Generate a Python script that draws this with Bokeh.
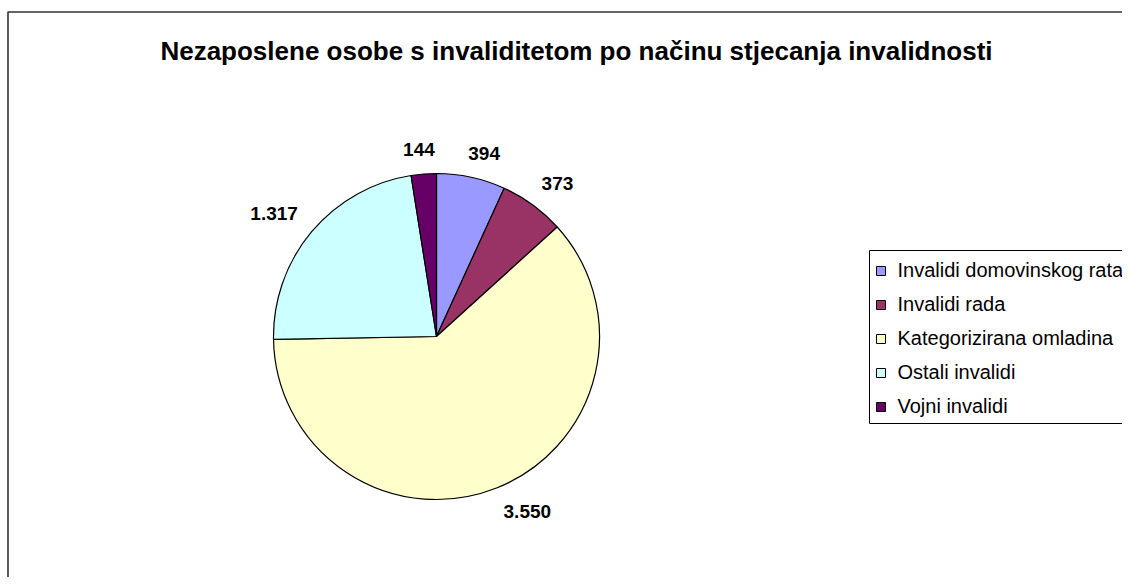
import math
from bokeh.plotting import figure
from bokeh.models import Range1d, Label
from bokeh.core.properties import value
from bokeh.embed import file_html
from bokeh.resources import INLINE

# ---- data ----
title_text = "Nezaposlene osobe s invaliditetom po načinu stjecanja invalidnosti"
categories = ["Invalidi domovinskog rata", "Invalidi rada", "Kategorizirana omladina",
              "Ostali invalidi", "Vojni invalidi"]
counts = [394, 373, 3550, 1317, 144]
count_labels = ["394", "373", "3.550", "1.317", "144"]
colors = ["#9999FF", "#993366", "#FFFFCC", "#CCFFFF", "#660066"]

# ---- layout (pixels, y measured upward from the bottom of the canvas) ----
W, H = 1122, 577
FONT = "Liberation Sans"
cx, cy, R = 436, 241, 163          # pie centre / radius

p = figure(width=W, height=H, x_range=Range1d(0, W), y_range=Range1d(0, H),
           output_backend="svg", toolbar_location=None, min_border=0,
           x_axis_type=None, y_axis_type=None)
p.grid.visible = False
p.outline_line_color = None
p.background_fill_color = "white"
p.border_fill_color = "white"

# chart area border (extends past right and bottom of the window)
p.quad(left=[7.5], right=[W + 50], top=[H - 11.5], bottom=[-50],
       fill_color=None, line_color="#333333", line_width=1.6)

# pie wedges, clockwise from 12 o'clock
total = float(sum(counts))
starts, ends, mids = [], [], []
acc = 0.0
for c in counts:
    f0 = acc / total
    acc += c
    f1 = acc / total
    starts.append(math.pi / 2 - 2 * math.pi * f0)
    ends.append(math.pi / 2 - 2 * math.pi * f1)
    mids.append(2 * math.pi * (f0 + f1) / 2)   # clockwise from top

p.wedge(x=[cx] * len(counts), y=[cy] * len(counts), radius=R,
        start_angle=starts, end_angle=ends, direction="clock",
        fill_color=colors, line_color="black", line_width=1.2)

# data labels outside the pie
lx, ly = [], []
R0 = R + 17
fs_lab = 19
for lab, th in zip(count_labels, mids):
    s, c = math.sin(th), math.cos(th)
    w = len(lab) * 9.8
    h = 15
    ax, ay = cx + R0 * s, cy + R0 * c
    kx = max(-1.0, min(1.0, 3 * s))
    ky = max(-1.0, min(1.0, 3 * c))
    lx.append(ax + kx * w / 2)
    ly.append(ay + ky * h / 2)
p.text(x=lx, y=ly, text=count_labels, text_font=value(FONT), text_font_style="bold",
       text_font_size=f"{fs_lab}px", text_align="center", text_baseline="middle",
       text_color="black")

# title
p.add_layout(Label(x=576, y=H - 50, text=title_text, text_font=FONT, text_font_style="bold",
                   text_font_size="26px", text_align="center", text_baseline="middle",
                   text_color="black"))

# legend (box runs off the right edge, like the reference)
leg_left, leg_top, leg_bottom = 869, H - 250, H - 423
p.quad(left=[leg_left], right=[W + 50], top=[leg_top], bottom=[leg_bottom],
       fill_color="white", line_color="black", line_width=1)
row0, step = H - 269.5, 34
ys = [row0 - i * step for i in range(len(categories))]
p.rect(x=[880.5] * len(categories), y=[y - 1 for y in ys], width=9, height=9,
       fill_color=colors, line_color="black", line_width=1)
p.text(x=[897] * len(categories), y=ys, text=categories, text_font=value(FONT),
       text_font_size="20px", text_align="left", text_baseline="middle",
       text_color="black")

open("out.html", "w").write(file_html(p, INLINE))
